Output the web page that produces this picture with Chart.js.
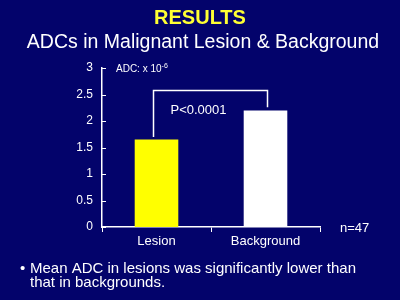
<!DOCTYPE html>
<html>
<head>
<meta charset="utf-8">
<script src="https://cdn.jsdelivr.net/npm/chart.js@4.4.0/dist/chart.umd.min.js"></script>
<style>
  html, body { margin: 0; padding: 0; background: #03036b; }
  #wrap { width: 400px; height: 300px; position: relative; }
</style>
</head>
<body>
<div id="wrap"><canvas id="adcChart"></canvas></div>
<script>
var categories = ['Lesion', 'Background'];
var adcValues = [1.65, 2.2];
var barColors = ['#ffff00', '#ffffff'];
var pLabel = 'P<0.0001';
var bracketLevel = 2.58;
var sampleLabel = 'n=47';

var FONT = '"Liberation Sans", Arial, sans-serif';

// titles, bracket, notes
var slideText = {
    id: 'slideText',
    afterDraw: function (chart) {
        var ctx = chart.ctx;
        var x = chart.scales.x, y = chart.scales.y;
        ctx.save();

        // small inward ticks on y axis
        ctx.strokeStyle = '#ffffff';
        ctx.lineWidth = 1;
        y.ticks.forEach(function (t) {
            var py = Math.round(y.getPixelForValue(t.value)) + 0.5;
            ctx.beginPath();
            ctx.moveTo(x.left, py);
            ctx.lineTo(x.left + 4, py);
            ctx.stroke();
        });

        // significance bracket
        var x0 = x.getPixelForValue(0) - 3, x1 = x.getPixelForValue(1) + 2;
        var yb = Math.round(y.getPixelForValue(bracketLevel)) + 0.5;
        ctx.lineWidth = 1.5;
        ctx.beginPath();
        ctx.moveTo(x0, y.getPixelForValue(adcValues[0] + 0.05));
        ctx.lineTo(x0, yb);
        ctx.lineTo(x1, yb);
        ctx.lineTo(x1, y.getPixelForValue(adcValues[1] + 0.06));
        ctx.stroke();

        ctx.fillStyle = '#ffffff';
        ctx.textBaseline = 'middle';
        ctx.textAlign = 'left';
        ctx.font = '13px ' + FONT;
        ctx.fillText(pLabel, x0 + 17, y.getPixelForValue(2.2));

        ctx.fillText(sampleLabel, 340, y.bottom + 1);

        // unit label
        ctx.font = '10px ' + FONT;
        var unit = 'ADC: x 10';
        ctx.fillText(unit, x.left + 14, y.top + 1);
        var w = ctx.measureText(unit).width;
        ctx.font = '7px ' + FONT;
        ctx.fillText('-6', x.left + 14 + w, y.top - 2);

        // titles
        ctx.textAlign = 'center';
        ctx.fillStyle = '#ffff33';
        ctx.font = 'bold 20px ' + FONT;
        ctx.fillText('RESULTS', 200, 18);
        ctx.fillStyle = '#ffffff';
        ctx.font = '19.5px ' + FONT;
        ctx.fillText('ADCs in Malignant Lesion & Background', 203, 43);

        // bullet
        ctx.textAlign = 'left';
        ctx.font = '15px ' + FONT;
        ctx.fillText('\u2022', 20, 269);
        ctx.fillText('Mean ADC in lesions was significantly lower than', 30, 269);
        ctx.fillText('that in backgrounds.', 30, 283);
        ctx.restore();
    }
};

var ctxBar = document.getElementById('adcChart').getContext('2d');
var chart = new Chart(ctxBar, {
    type: 'bar',
    data: {
        labels: categories,
        datasets: [{
            data: adcValues,
            backgroundColor: barColors,
            borderWidth: 0,
            categoryPercentage: 1,
            barPercentage: 0.4
        }]
    },
    options: {
        responsive: true,
        maintainAspectRatio: false,
        animation: false,
        layout: {
            padding: { top: 68, right: 80, bottom: 43, left: 0 }
        },
        plugins: {
            legend: { display: false },
            tooltip: { enabled: false }
        },
        scales: {
            x: {
                afterFit: function (s) { s.height = 30; },
                grid: { display: true, drawOnChartArea: false, drawTicks: true, tickLength: 5, color: '#ffffff', offset: true },
                border: { display: true, color: '#ffffff', width: 1.5 },
                ticks: { color: '#ffffff', font: { size: 13, family: FONT }, padding: 2 }
            },
            y: {
                min: 0,
                max: 3,
                afterFit: function (s) { s.width = 102; },
                grid: { display: false, drawTicks: false },
                border: { display: true, color: '#ffffff', width: 1.5 },
                ticks: {
                    stepSize: 0.5,
                    color: '#ffffff',
                    font: { size: 12, family: FONT },
                    padding: 9,
                    callback: function (v) { return String(v); }
                }
            }
        }
    },
    plugins: [slideText]
});
</script>
</body>
</html>
